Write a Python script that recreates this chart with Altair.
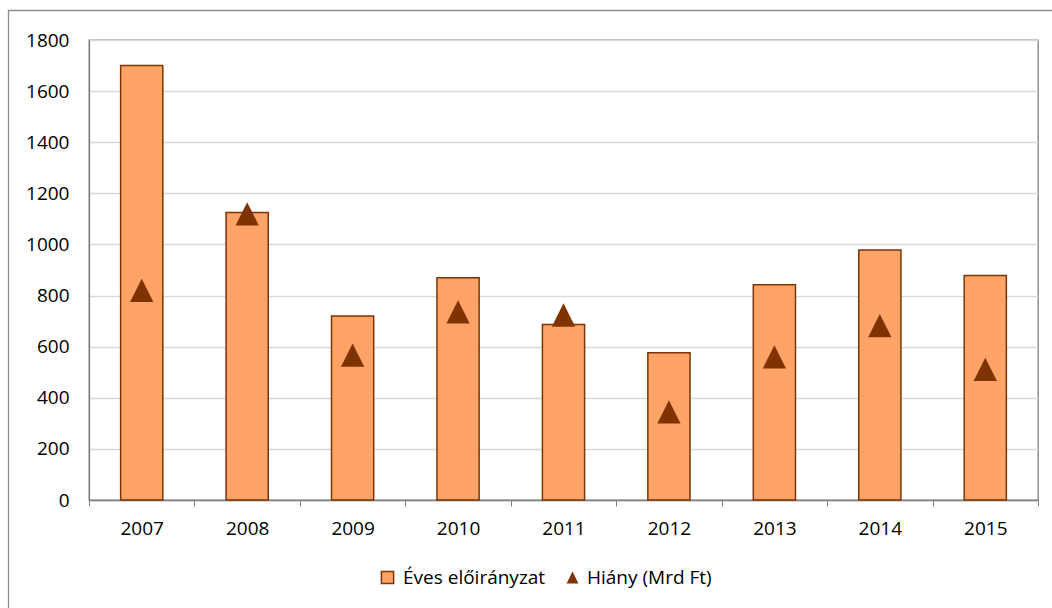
import altair as alt
import pandas as pd

# Yearly figures (billion HUF)
years = ["2007", "2008", "2009", "2010", "2011", "2012", "2013", "2014", "2015"]
annual_budget = [1700, 1125, 720, 870, 687, 576, 842, 978, 878]
deficit = [820, 1120, 567, 736, 724, 345, 560, 682, 511]
y_ticks = [0, 200, 400, 600, 800, 1000, 1200, 1400, 1600, 1800]

budget_label = "Éves előirányzat"
deficit_label = "Hiány (Mrd Ft)"

df = pd.DataFrame({
    "year": years,
    "budget": annual_budget,
    "deficit": deficit,
    "budget_series": budget_label,
    "deficit_series": deficit_label,
})

FONT = "Open Sans"
FONT_SIZE = 19
ORANGE = "#FFA366"
BAR_EDGE = "#7A3508"
DARK = "#7F3300"
AXIS_GRAY = "#808080"
GRID_GRAY = "#D9D9D9"
TRIANGLE = "M0,-1L1,1L-1,1Z"

W, H = 949, 460
PAD = {"left": 89, "top": 40, "right": 14, "bottom": 108}

x_enc = alt.X(
    "year:N", title=None, sort=years,
    scale=alt.Scale(paddingInner=0, paddingOuter=0),
    axis=alt.Axis(labelAngle=0, tickBand="extent", tickSize=6, tickColor=AXIS_GRAY,
                  domainColor=AXIS_GRAY, domainWidth=1.3, labelPadding=13, grid=False),
)
y_axis = alt.Axis(values=y_ticks, format="d", ticks=False, domainColor=AXIS_GRAY,
                  domainWidth=1.3, gridColor=GRID_GRAY, gridWidth=1.3, labelPadding=20,
                  grid=True)
y_scale = alt.Scale(domain=[0, 1800], nice=False)

# chart frame (only its top and left edges fall inside the page)
frame = alt.Chart(alt.Data(values=[{}])).mark_rect(
    fill=None, stroke="#8C8C8C", strokeWidth=1.3
).encode(
    x=alt.value(-80.5), x2=alt.value(1200),
    y=alt.value(-29.5), y2=alt.value(800),
)

bars = alt.Chart(df).mark_bar(
    width=alt.RelativeBandSize(0.4), stroke=BAR_EDGE, strokeWidth=1.5
).encode(
    x=x_enc,
    y=alt.Y("budget:Q", title=None, scale=y_scale, axis=y_axis),
    color=alt.Color(
        "budget_series:N",
        scale=alt.Scale(domain=[budget_label], range=[ORANGE]),
        legend=alt.Legend(title=None, orient="none", legendX=289, legendY=528,
                          symbolType="square", symbolSize=150, symbolStrokeColor=BAR_EDGE,
                          symbolStrokeWidth=1.5, labelOffset=6, padding=0),
    ),
)

points = alt.Chart(df).mark_point(
    filled=True, opacity=1, color=DARK, size=543, strokeWidth=0
).encode(
    x=x_enc,
    y=alt.Y("deficit:Q", title=None, scale=y_scale, axis=y_axis),
    shape=alt.Shape(
        "deficit_series:N",
        scale=alt.Scale(domain=[deficit_label], range=[TRIANGLE]),
        legend=alt.Legend(title=None, orient="none", legendX=474, legendY=528,
                          symbolSize=140, symbolFillColor=DARK, symbolStrokeWidth=0,
                          labelOffset=5, padding=0),
    ),
)

chart = alt.layer(frame, bars, points).properties(
    width=W, height=H,
    autosize=alt.AutoSizeParams(type="none"),
    padding=PAD,
    background="white",
).configure_view(
    stroke=AXIS_GRAY, strokeWidth=1.3
).configure_axis(
    labelFont=FONT, labelFontSize=FONT_SIZE, labelColor="#000000"
).configure_legend(
    labelFont=FONT, labelFontSize=FONT_SIZE, labelColor="#000000"
)

chart.save("out.html", embed_options={"renderer": "svg", "actions": False})
